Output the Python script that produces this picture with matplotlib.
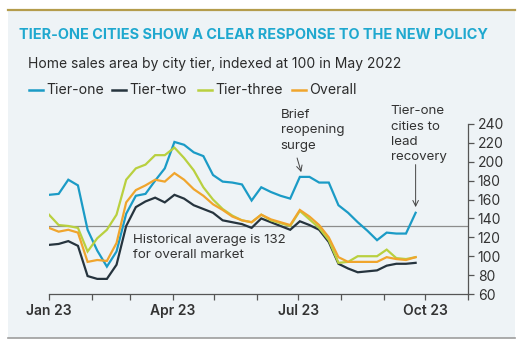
import numpy as np
import pandas as pd
import matplotlib
matplotlib.use('Agg')
import matplotlib.pyplot as plt
import matplotlib.dates as mdates
from matplotlib.patches import Rectangle
from matplotlib.lines import Line2D

plt.rcParams['font.family'] = ['Inter', 'DejaVu Sans']

# weekly home sales area index (May 2022 = 100)
dates = pd.date_range('2023-01-01', periods=39, freq='7D')
tier_one = [165, 166, 181, 175, 128, 106, 89, 105, 145, 164, 166, 180, 193,
            221, 218, 210, 206, 186, 179, 178, 176, 159, 173, 168, 164, 161,
            184, 184, 178, 178, 154, 146, 136, 127, 117, 125, 124, 124, 146]
tier_two = [112, 113, 116, 111, 79, 76, 76, 91, 132, 152, 158, 162, 157,
            165, 161, 154, 150, 146, 138, 136, 134, 130, 140, 136, 132, 128,
            137, 133, 128, 115, 92, 87, 83, 84, 85, 90, 92, 92, 93]
tier_three = [144, 133, 132, 130, 105, 119, 128, 144, 181, 193, 197, 207, 207,
              215, 204, 191, 173, 160, 150, 143, 138, 136, 144, 138, 135, 132,
              148, 139, 130, 117, 93, 94, 100, 100, 100, 107, 98, 97, 99]
overall = [130, 126, 128, 125, 94, 96, 95, 114, 157, 170, 175, 181, 179,
           188, 181, 171, 164, 155, 149, 142, 138, 136, 144, 139, 136, 133,
           149, 142, 133, 120, 99, 94, 94, 94, 94, 99, 97, 96, 99]
hist_avg = 132

series = [
    ('Tier-one', tier_one, '#1b9bc6'),
    ('Tier-two', tier_two, '#26343e'),
    ('Tier-three', tier_three, '#b9d03f'),
    ('Overall', overall, '#f0a52d'),
]
y_ticks = [60, 80, 100, 120, 140, 160, 180, 200, 220, 240]

W, H = 524, 346
fig = plt.figure(figsize=(W / 100, H / 100), dpi=100)
fig.patch.set_facecolor('white')

def fx(px):
    return px / W

def fy(py):
    return 1 - py / H

# card background and rules
card = Rectangle((fx(8), fy(338)), fx(507), 328 / H, transform=fig.transFigure,
                 facecolor='#eef3f6', edgecolor='none', zorder=-5)
fig.add_artist(card)
fig.add_artist(Line2D([fx(8), fx(515)], [fy(10), fy(10)], color='#b49c4c', lw=1.6))
fig.add_artist(Line2D([fx(8), fx(515)], [fy(338), fy(338)], color='#9d9d9d', lw=1.2))

fig.text(fx(19), fy(35), 'TIER-ONE CITIES SHOW A CLEAR RESPONSE TO THE NEW POLICY',
         color='#1fa8cf', fontsize=10.4, fontweight='bold', va='center', ha='left')
fig.text(fx(28), fy(64), 'Home sales area by city tier, indexed at 100 in May 2022',
         color='#2b2b2b', fontsize=10.0, va='center', ha='left')

# legend row
lx = [29, 112, 198, 292]
for (name, _, col), x0 in zip(series, lx):
    fig.add_artist(Line2D([fx(x0), fx(x0 + 14)], [fy(90), fy(90)], color=col, lw=1.8))
    fig.text(fx(x0 + 17), fy(90), name, color='#2b2b2b', fontsize=10.2,
             va='center', ha='left')

ax = fig.add_axes([fx(49), fy(294), fx(468) - fx(49), fy(124) - fy(294)])
ax.set_facecolor('none')
ax.set_zorder(2)

for name, vals, col in series:
    ax.plot(dates, vals, color=col, lw=1.6, solid_joinstyle='miter', zorder=3)

ax.axhline(hist_avg, color='#8c8c8c', lw=0.9, zorder=2)

ax.set_xlim(pd.Timestamp('2023-01-01'), pd.Timestamp('2023-11-01'))
ax.set_ylim(60, 240)

ax.xaxis.set_major_locator(mdates.MonthLocator(bymonth=[1, 4, 7, 10]))
ax.xaxis.set_major_formatter(mdates.DateFormatter('%b %y'))
ax.xaxis.set_minor_locator(mdates.MonthLocator())
ax.yaxis.tick_right()
ax.set_yticks(y_ticks)

for side in ['top', 'left']:
    ax.spines[side].set_visible(False)
for side in ['bottom', 'right']:
    ax.spines[side].set_color('#555555')
    ax.spines[side].set_linewidth(0.9)

ax.tick_params(axis='x', which='both', direction='out', length=4, width=0.9,
               color='#555555', labelsize=10, labelcolor='#333333', pad=3)
ax.tick_params(axis='y', which='both', direction='out', length=4, width=0.9,
               color='#555555', labelsize=10, labelcolor='#333333', pad=3)
for lab in ax.get_xticklabels():
    lab.set_fontweight('semibold')

note = dict(color='#333333', fontsize=9.6, va='top', ha='left',
            linespacing=1.38, clip_on=False)
ax.text(pd.Timestamp('2023-03-03'), 123.5,
        'Historical average is 132\nfor overall market', **note)

ax.text(pd.Timestamp('2023-06-18'), 256, 'Brief\nreopening\nsurge', **note)
ax.annotate('', xy=(pd.Timestamp('2023-07-03'), 189),
            xytext=(pd.Timestamp('2023-06-30'), 204),
            arrowprops=dict(arrowstyle='->', color='#444444', lw=0.7,
                            shrinkA=0, shrinkB=0))

ax.text(pd.Timestamp('2023-09-06'), 260, 'Tier-one\ncities to\nlead\nrecovery', **note)
ax.annotate('', xy=(dates[38], 152), xytext=(dates[38], 197),
            arrowprops=dict(arrowstyle='->', color='#444444', lw=0.7,
                            shrinkA=0, shrinkB=0))

fig.savefig('out.png', dpi=100)
